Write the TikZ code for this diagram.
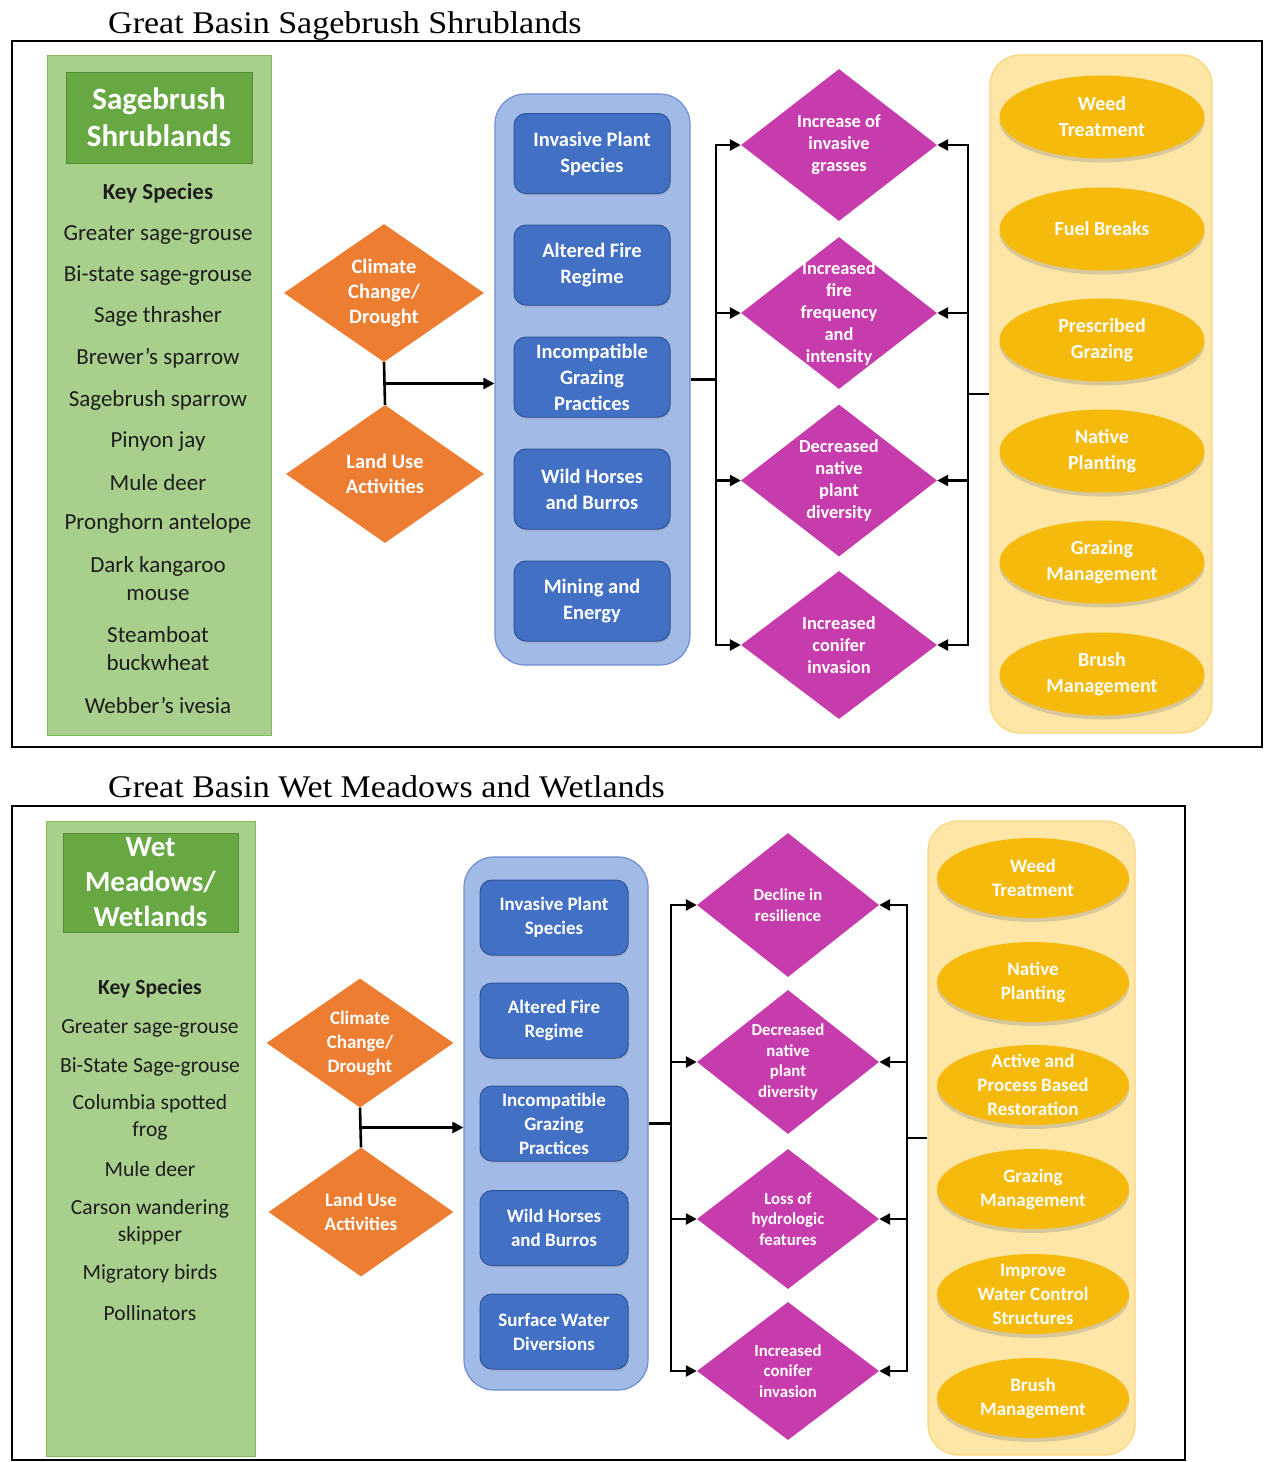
\documentclass[tikz,border=0pt]{standalone}
\usepackage{fontspec}
\setmainfont{Carlito}
\newfontfamily\titlefont{Liberation Serif}
\usetikzlibrary{shapes.geometric,arrows.meta,shadows,calc}
\definecolor{panelgreen}{RGB}{168,208,140}
\definecolor{panelgreenedge}{RGB}{128,186,96}
\definecolor{darkgreen}{RGB}{104,168,66}
\definecolor{darkgreenedge}{RGB}{84,140,52}
\definecolor{orangeA}{RGB}{237,125,49}
\definecolor{blueouter}{RGB}{162,186,230}
\definecolor{blueouteredge}{RGB}{112,142,210}
\definecolor{bluebox}{RGB}{66,112,196}
\definecolor{blueboxedge}{RGB}{47,85,151}
\definecolor{magentaA}{RGB}{199,60,172}
\definecolor{yellowouter}{RGB}{254,231,166}
\definecolor{yellowouteredge}{RGB}{250,214,124}
\definecolor{goldA}{RGB}{245,186,12}
\definecolor{spgray}{RGB}{30,30,30}
\tikzset{
  frame/.style={draw=black, line width=2pt, inner sep=0pt},
  titletxt/.style={font=\titlefont\fontsize{31.5}{36}\selectfont, anchor=base west, inner sep=0pt},
  panel/.style={fill=panelgreen, draw=panelgreenedge, line width=1pt, inner sep=0pt},
  hbox/.style={fill=darkgreen, draw=darkgreenedge, line width=1pt, text=white, align=center, inner sep=0pt},
  sp/.style={text=spgray, align=center, inner sep=0pt},
  orng/.style={diamond, fill=orangeA, draw=none, inner sep=0pt},
  otxt/.style={text=white, align=center, inner sep=0pt},
  bouter/.style={fill=blueouter, draw=blueouteredge, line width=1.2pt, rounded corners=30pt, inner sep=0pt},
  bbox/.style={fill=bluebox, draw=blueboxedge, line width=1pt, rounded corners=12pt, text=white, align=center, inner sep=0pt,
    drop shadow={shadow xshift=1pt, shadow yshift=-2pt, opacity=0.25}},
  mag/.style={diamond, fill=magentaA, draw=none, inner sep=0pt},
  mtxt/.style={text=white, align=center, inner sep=0pt},
  youter/.style={fill=yellowouter, draw=yellowouteredge, line width=1.2pt, rounded corners=30pt, inner sep=0pt},
  ell/.style={ellipse, fill=goldA, draw=none, inner sep=0pt,
    drop shadow={shadow xshift=0pt, shadow yshift=-4pt, opacity=0.3}},
  etxt/.style={text=white, align=center, inner sep=0pt},
  conn/.style={draw=black, line width=2.6pt},
  arr/.style={conn, -{Triangle[length=11pt,width=11pt]}},
}
\begin{document}
\begin{tikzpicture}[x=1pt,y=-1pt]
\useasboundingbox (0,0) rectangle (1264,1462);
\fill[white] (0,0) rectangle (1264,1462);

%% ================= TOP PANEL =================
\node[titletxt] (T1) at (108,33) {\scalebox{1.08}[1]{Great Basin Sagebrush Shrublands}};
\node[frame, minimum width=1250pt, minimum height=706pt] (F1) at (637,394) {};

% green panel
\node[panel, minimum width=224pt, minimum height=680pt] (G1) at (159,395) {};
\node[hbox, minimum width=186pt, minimum height=91pt, font=\bfseries\fontsize{31}{37}\selectfont] (H1) at (159,117.5) {Sagebrush\\Shrublands};
\begin{scope}[every node/.append style={font=\fontsize{23}{28}\selectfont}]
\node[sp, font=\bfseries\fontsize{23}{28}\selectfont] (k1) at (158,193) {Key Species};
\node[sp] (s11) at (158,235) {Greater sage-grouse};
\node[sp] (s12) at (158,276) {Bi-state sage-grouse};
\node[sp] (s13) at (158,316) {Sage thrasher};
\node[sp] (s14) at (158,358) {Brewer’s sparrow};
\node[sp] (s15) at (158,400) {Sagebrush sparrow};
\node[sp] (s16) at (158,442) {Pinyon jay};
\node[sp] (s17) at (158,483) {Mule deer};
\node[sp] (s18) at (158,523) {Pronghorn antelope};
\node[sp] (s19) at (158,579) {Dark kangaroo\\mouse};
\node[sp] (s110) at (158,649) {Steamboat\\buckwheat};
\node[sp] (s111) at (158,705) {Webber’s ivesia};
\end{scope}

% orange drivers
\node[orng, minimum width=200pt, minimum height=138pt] (c1) at (384,293) {};
\node[otxt, font=\bfseries\fontsize{20.5}{25}\selectfont] (c1t) at (c1.center) {Climate\\Change/\\Drought};
\node[orng, minimum width=198pt, minimum height=138pt] (c2) at (385,474) {};
\node[otxt, font=\bfseries\fontsize{20.5}{25}\selectfont] (c2t) at (c2.center) {Land Use\\Activities};

% blue stressors
\node[bouter, minimum width=195pt, minimum height=571pt] (B1) at (592.5,379.5) {};
\begin{scope}[every node/.append style={minimum width=156pt, minimum height=80pt, font=\bfseries\fontsize{20.5}{26}\selectfont}]
\node[bbox] (b11) at (592,153.5) {Invasive Plant\\Species};
\node[bbox] (b12) at (592,265) {Altered Fire\\Regime};
\node[bbox] (b13) at (592,377) {Incompatible\\Grazing\\Practices};
\node[bbox] (b14) at (592,489) {Wild Horses\\and Burros};
\node[bbox] (b15) at (592,601) {Mining and\\Energy};
\end{scope}

% magenta effects
\node[mag, minimum width=196pt, minimum height=152pt] (d11) at (839,145) {};
\node[mag, minimum width=196pt, minimum height=152pt] (d12) at (839,313) {};
\node[mag, minimum width=196pt, minimum height=152pt] (d13) at (839,480.5) {};
\node[mag, minimum width=196pt, minimum height=148pt] (d14) at (839,645) {};
\begin{scope}[every node/.append style={font=\bfseries\fontsize{18.4}{22}\selectfont}]
\node[mtxt] (d11t) at (d11.center) {Increase of\\invasive\\grasses};
\node[mtxt] (d12t) at (d12.center) {Increased\\fire\\frequency\\and\\intensity};
\node[mtxt] (d13t) at (d13.center) {Decreased\\native\\plant\\diversity};
\node[mtxt] (d14t) at (d14.center) {Increased\\conifer\\invasion};
\end{scope}

% yellow actions
\node[youter, minimum width=222pt, minimum height=678pt] (Y1) at (1101,394) {};
\begin{scope}[every node/.append style={minimum width=205pt, minimum height=83pt}]
\node[ell] (e11) at (1102,117) {};
\node[ell] (e12) at (1102,229) {};
\node[ell] (e13) at (1102,340) {};
\node[ell] (e14) at (1102,451) {};
\node[ell] (e15) at (1102,562) {};
\node[ell] (e16) at (1102,674) {};
\end{scope}
\begin{scope}[every node/.append style={font=\bfseries\fontsize{20}{26}\selectfont}]
\node[etxt] (e11t) at (e11.center) {Weed\\Treatment};
\node[etxt] (e12t) at (e12.center) {Fuel Breaks};
\node[etxt] (e13t) at (e13.center) {Prescribed\\Grazing};
\node[etxt] (e14t) at (e14.center) {Native\\Planting};
\node[etxt] (e15t) at (e15.center) {Grazing\\Management};
\node[etxt] (e16t) at (e16.center) {Brush\\Management};
\end{scope}

% connectors top
\coordinate (j1) at ($(c1.south)!0.5!(c2.north)$);
\draw[conn] (c1.south) -- (c2.north);
\draw[arr] (j1) -- (B1.west |- j1);
\coordinate (bl1) at (716,379.5);
\coordinate (br1) at (968,394);
\draw[conn] (B1.east) -- (bl1);
\draw[conn, line cap=rect] (bl1 |- d11) -- (bl1 |- d14);
\draw[conn] (Y1.west) -- (br1);
\draw[conn, line cap=rect] (br1 |- d11) -- (br1 |- d14);
\foreach \d in {d11,d12,d13,d14}{
  \draw[arr] (bl1 |- \d) -- (\d.west);
  \draw[arr] (br1 |- \d) -- (\d.east);
}

%% ================= BOTTOM PANEL =================
\node[titletxt] (T2) at (108,797) {\scalebox{1.08}[1]{Great Basin Wet Meadows and Wetlands}};
\node[frame, minimum width=1173pt, minimum height=654pt] (F2) at (598.5,1133) {};

\node[panel, minimum width=209pt, minimum height=635pt] (G2) at (150.5,1138.5) {};
\node[hbox, minimum width=175pt, minimum height=99pt, font=\bfseries\fontsize{29}{35}\selectfont] (H2) at (150.5,882.5) {Wet\\Meadows/\\Wetlands};
\begin{scope}[every node/.append style={font=\fontsize{21.6}{27}\selectfont}]
\node[sp, font=\bfseries\fontsize{21.6}{27}\selectfont] (k2) at (150,989) {Key Species};
\node[sp] (s21) at (150,1028) {Greater sage-grouse};
\node[sp] (s22) at (150,1067) {Bi-State Sage-grouse};
\node[sp] (s23) at (150,1117.5) {Columbia spotted\\frog};
\node[sp] (s24) at (150,1169) {Mule deer};
\node[sp] (s25) at (150,1222) {Carson wandering\\skipper};
\node[sp] (s26) at (150,1274) {Migratory birds};
\node[sp] (s27) at (150,1313) {Pollinators};
\end{scope}

\node[orng, minimum width=187pt, minimum height=129pt] (c3) at (360,1043) {};
\node[otxt, font=\bfseries\fontsize{19}{24}\selectfont] (c3t) at (c3.center) {Climate\\Change/\\Drought};
\node[orng, minimum width=185pt, minimum height=129pt] (c4) at (361,1212) {};
\node[otxt, font=\bfseries\fontsize{19}{24}\selectfont] (c4t) at (c4.center) {Land Use\\Activities};

\node[bouter, minimum width=184pt, minimum height=533pt] (B2) at (556,1123.5) {};
\begin{scope}[every node/.append style={minimum width=148pt, minimum height=75pt, font=\bfseries\fontsize{19}{24}\selectfont}]
\node[bbox] (b21) at (554,917.5) {Invasive Plant\\Species};
\node[bbox] (b22) at (554,1020.5) {Altered Fire\\Regime};
\node[bbox] (b23) at (554,1123.5) {Incompatible\\Grazing\\Practices};
\node[bbox] (b24) at (554,1228) {Wild Horses\\and Burros};
\node[bbox] (b25) at (554,1331.5) {Surface Water\\Diversions};
\end{scope}

\node[mag, minimum width=182pt, minimum height=144pt] (d21) at (788,905) {};
\node[mag, minimum width=182pt, minimum height=144pt] (d22) at (788,1062) {};
\node[mag, minimum width=182pt, minimum height=140pt] (d23) at (788,1219) {};
\node[mag, minimum width=182pt, minimum height=138pt] (d24) at (788,1371) {};
\begin{scope}[every node/.append style={font=\bfseries\fontsize{16.8}{20.7}\selectfont}]
\node[mtxt] (d21t) at (d21.center) {Decline in\\resilience};
\node[mtxt] (d22t) at (d22.center) {Decreased\\native\\plant\\diversity};
\node[mtxt] (d23t) at (d23.center) {Loss of\\hydrologic\\features};
\node[mtxt] (d24t) at (d24.center) {Increased\\conifer\\invasion};
\end{scope}

\node[youter, minimum width=207pt, minimum height=634pt] (Y2) at (1031.5,1138) {};
\begin{scope}[every node/.append style={minimum width=192pt, minimum height=80pt}]
\node[ell] (e21) at (1033,878) {};
\node[ell] (e22) at (1033,982) {};
\node[ell] (e23) at (1033,1085) {};
\node[ell] (e24) at (1033,1189) {};
\node[ell] (e25) at (1033,1294) {};
\node[ell] (e26) at (1033,1398) {};
\end{scope}
\begin{scope}[every node/.append style={font=\bfseries\fontsize{19}{24}\selectfont}]
\node[etxt] (e21t) at (e21.center) {Weed\\Treatment};
\node[etxt] (e22t) at (e22.center) {Native\\Planting};
\node[etxt] (e23t) at (e23.center) {Active and\\Process Based\\Restoration};
\node[etxt] (e24t) at (e24.center) {Grazing\\Management};
\node[etxt] (e25t) at (e25.center) {Improve\\Water Control\\Structures};
\node[etxt] (e26t) at (e26.center) {Brush\\Management};
\end{scope}

\coordinate (j2) at ($(c3.south)!0.5!(c4.north)$);
\draw[conn] (c3.south) -- (c4.north);
\draw[arr] (j2) -- (B2.west |- j2);
\coordinate (bl2) at (671,1123.5);
\coordinate (br2) at (907,1138);
\draw[conn] (B2.east) -- (bl2);
\draw[conn, line cap=rect] (bl2 |- d21) -- (bl2 |- d24);
\draw[conn] (Y2.west) -- (br2);
\draw[conn, line cap=rect] (br2 |- d21) -- (br2 |- d24);
\foreach \d in {d21,d22,d23,d24}{
  \draw[arr] (bl2 |- \d) -- (\d.west);
  \draw[arr] (br2 |- \d) -- (\d.east);
}
\end{tikzpicture}
\end{document}
